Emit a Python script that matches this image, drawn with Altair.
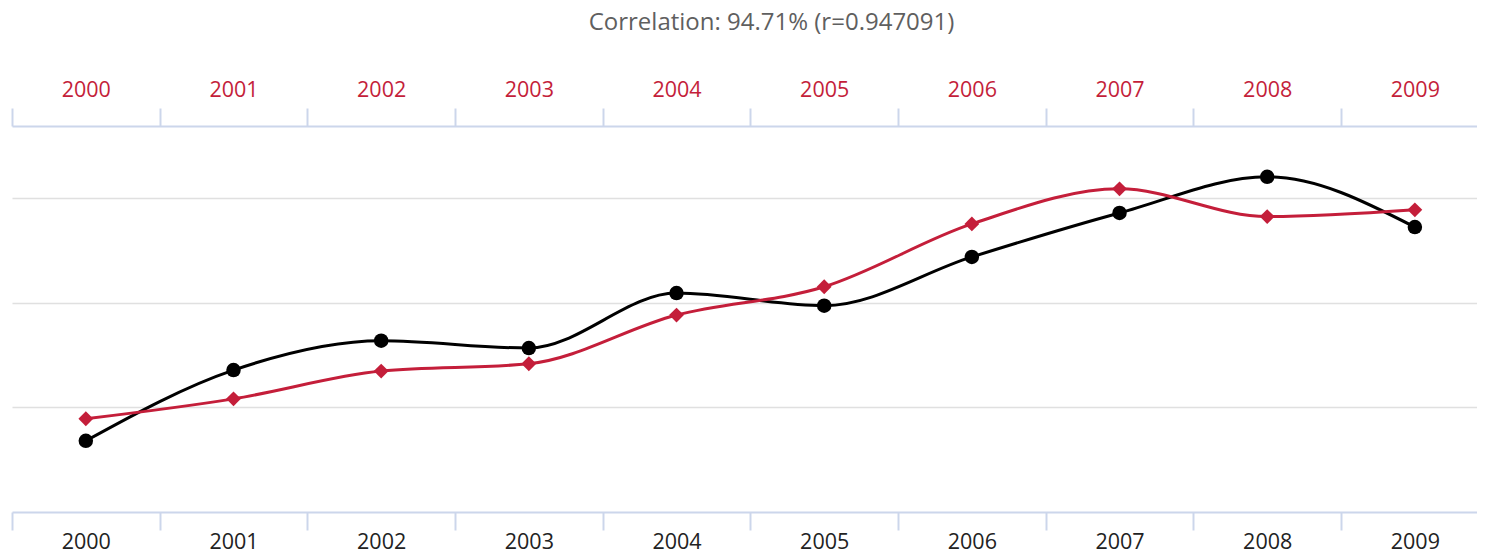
import altair as alt
import pandas as pd

years = [2000, 2001, 2002, 2003, 2004, 2005, 2006, 2007, 2008, 2009]
black_vals = [13.6, 27.1, 32.7, 31.3, 41.8, 39.4, 48.7, 57.1, 64.0, 54.4]
red_vals = [17.8, 21.6, 26.9, 28.3, 37.6, 43.0, 55.0, 61.7, 56.4, 57.7]
grid_vals = [20, 40, 60]
title_text = "Correlation: 94.71% (r=0.947091)"

RED = "#c41e3a"
BLACK = "#000000"
AXIS_COL = "#ccd6eb"
FONT = "Open Sans"

W = 1465
H = 386
band = 147.67
x_hi = years[0] - 0.5 + W / band

df = pd.DataFrame({"year": years, "black": black_vals, "red": red_vals})

edges = [y - 0.5 for y in years]
xscale = alt.Scale(domain=[years[0] - 0.5, x_hi], nice=False, zero=False)
yscale = alt.Scale(domain=[0, 73.7], nice=False, zero=True)

label_expr = "format(datum.value + 0.5, 'd')"


def xaxis(orient, color):
    return alt.Axis(
        orient=orient,
        values=edges,
        labelExpr=label_expr,
        labelOffset=band / 2,
        labelFlush=False,
        labelOverlap=False,
        labelBound=False,
        labelColor=color,
        labelFont=FONT,
        labelFontSize=21.5,
        labelPadding=7 if orient == "top" else 1,
        tickSize=18,
        tickColor=AXIS_COL,
        tickWidth=2,
        domainColor=AXIS_COL,
        domainWidth=2,
        grid=False,
        title=None,
    )


yaxis = alt.Axis(
    values=grid_vals,
    grid=True,
    gridColor="#e0e0e0",
    gridWidth=1.5,
    labels=False,
    ticks=False,
    domain=False,
    title=None,
)

base = alt.Chart(df)

black_line = base.mark_line(color=BLACK, strokeWidth=3, interpolate="monotone").encode(
    x=alt.X("year:Q", scale=xscale, axis=xaxis("bottom", "#222222")),
    y=alt.Y("black:Q", scale=yscale, axis=yaxis),
)
black_pts = base.mark_point(color=BLACK, filled=True, opacity=1, size=210, shape="circle").encode(
    x=alt.X("year:Q", scale=xscale, axis=None),
    y=alt.Y("black:Q", scale=yscale, axis=None),
)
red_line = base.mark_line(color=RED, strokeWidth=3, interpolate="monotone").encode(
    x=alt.X("year:Q", scale=xscale, axis=xaxis("top", RED)),
    y=alt.Y("red:Q", scale=yscale, axis=None),
)
red_pts = base.mark_point(color=RED, filled=True, opacity=1, size=220, shape="diamond").encode(
    x=alt.X("year:Q", scale=xscale, axis=None),
    y=alt.Y("red:Q", scale=yscale, axis=None),
)

chart = (
    alt.layer(black_line, red_line, black_pts, red_pts)
    .resolve_axis(x="independent", y="independent")
    .resolve_scale(x="shared", y="shared")
    .properties(
        width=W,
        height=H,
        autosize=alt.AutoSizeParams(type="none"),
        padding={"left": 4, "top": 118, "right": 0, "bottom": 42},
        title=alt.TitleParams(
            text=title_text,
            font=FONT,
            fontSize=24,
            fontWeight="normal",
            color="#5f5f5f",
            anchor="middle",
            dx=27,
            offset=44,
        ),
    )
    .configure_view(stroke=None)
)

chart.save("out.html", embed_options={"renderer": "svg", "actions": False})
